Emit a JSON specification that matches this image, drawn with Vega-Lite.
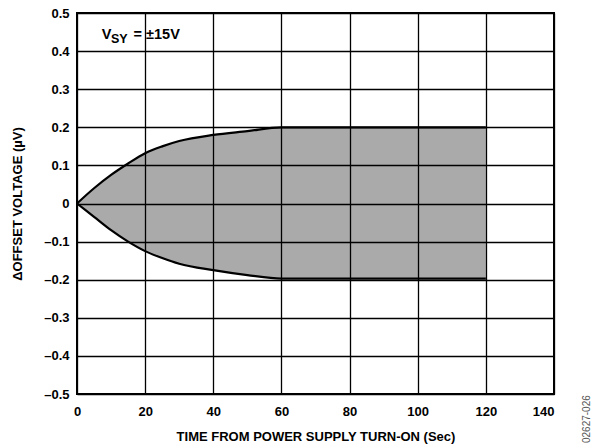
{
  "$schema": "https://vega.github.io/schema/vega-lite/v6.json",
  "autosize": {"type": "none"},
  "width": 477,
  "height": 381,
  "padding": {"left": 77, "top": 13, "right": 38, "bottom": 54},
  "background": "white",
  "config": {
    "view": {"stroke": "black", "strokeWidth": 2},
    "font": "Liberation Sans",
    "axis": {
      "grid": true,
      "gridColor": "black",
      "gridWidth": 1.3,
      "gridOpacity": 1,
      "domain": false,
      "ticks": false,
      "labelOverlap": false,
      "labelFont": "Liberation Sans",
      "labelFontWeight": "bold",
      "labelFontSize": 13,
      "labelColor": "black",
      "titleFont": "Liberation Sans",
      "titleFontWeight": "bold",
      "titleFontSize": 13,
      "titleColor": "black"
    }
  },
  "datasets": {
    "band": [
      {"t": 0, "hi": 0, "lo": 0},
      {"t": 5, "hi": 0.04, "lo": -0.035},
      {"t": 10, "hi": 0.075, "lo": -0.07},
      {"t": 15, "hi": 0.105, "lo": -0.1},
      {"t": 20, "hi": 0.132, "lo": -0.125},
      {"t": 25, "hi": 0.15, "lo": -0.143},
      {"t": 30, "hi": 0.164, "lo": -0.158},
      {"t": 40, "hi": 0.18, "lo": -0.175},
      {"t": 50, "hi": 0.19, "lo": -0.188},
      {"t": 60, "hi": 0.2, "lo": -0.197},
      {"t": 120, "hi": 0.2, "lo": -0.197}
    ]
  },
  "layer": [
    {
      "data": {"name": "band"},
      "mark": {"type": "area", "color": "#aaaaaa", "opacity": 1, "interpolate": "monotone"},
      "encoding": {
        "x": {
          "field": "t", "type": "quantitative",
          "scale": {"domain": [0, 140], "nice": false},
          "axis": {
            "values": [0, 20, 40, 60, 80, 100, 120, 140],
            "tickCount": 20,
            "zindex": 1,
            "title": "TIME FROM POWER SUPPLY TURN-ON (Sec)",
            "labelPadding": 11,
            "titlePadding": 12,
            "labelAlign": {"expr": "datum.value == 140 ? 'right' : 'center'"},
            "labelFlush": false
          }
        },
        "y": {
          "field": "hi", "type": "quantitative",
          "scale": {"domain": [-0.5, 0.5], "nice": false, "zero": false},
          "axis": {
            "values": [-0.5, -0.4, -0.3, -0.2, -0.1, 0, 0.1, 0.2, 0.3, 0.4, 0.5],
            "tickCount": 20,
            "zindex": 1,
            "title": "ΔOFFSET VOLTAGE (µV)",
            "labelPadding": 8,
            "titlePadding": 19,
            "labelExpr": "abs(datum.value) < 1e-9 ? '0' : (datum.value < 0 ? '–' + format(-datum.value, '.1f') : format(datum.value, '.1f'))"
          }
        },
        "y2": {"field": "lo"}
      }
    },
    {
      "data": {"name": "band"},
      "mark": {"type": "line", "color": "black", "strokeWidth": 2.2, "interpolate": "monotone"},
      "encoding": {
        "x": {"field": "t", "type": "quantitative"},
        "y": {"field": "hi", "type": "quantitative"}
      }
    },
    {
      "data": {"name": "band"},
      "mark": {"type": "line", "color": "black", "strokeWidth": 2.2, "interpolate": "monotone"},
      "encoding": {
        "x": {"field": "t", "type": "quantitative"},
        "y": {"field": "lo", "type": "quantitative"}
      }
    },
    {
      "data": {"values": [{"x": 7.25, "y": 0.431, "label": "V"}]},
      "mark": {"type": "text", "align": "left", "baseline": "alphabetic", "fontSize": 14.5, "fontWeight": "bold", "color": "black"},
      "encoding": {
        "x": {"field": "x", "type": "quantitative"},
        "y": {"field": "y", "type": "quantitative"},
        "text": {"field": "label"}
      }
    },
    {
      "data": {"values": [{"x": 9.95, "y": 0.421, "label": "SY"}]},
      "mark": {"type": "text", "align": "left", "baseline": "alphabetic", "fontSize": 12.5, "fontWeight": "bold", "color": "black"},
      "encoding": {
        "x": {"field": "x", "type": "quantitative"},
        "y": {"field": "y", "type": "quantitative"},
        "text": {"field": "label"}
      }
    },
    {
      "data": {"values": [{"x": 16.6, "y": 0.431, "label": "= ±15V"}]},
      "mark": {"type": "text", "align": "left", "baseline": "alphabetic", "fontSize": 14.5, "fontWeight": "bold", "color": "black"},
      "encoding": {
        "x": {"field": "x", "type": "quantitative"},
        "y": {"field": "y", "type": "quantitative"},
        "text": {"field": "label"}
      }
    },
    {
      "data": {"values": [{"x": 149.6, "y": -0.566, "label": "02627-026"}]},
      "mark": {"type": "text", "align": "center", "baseline": "middle", "angle": 270, "fontSize": 10, "color": "#555555", "clip": false},
      "encoding": {
        "x": {"field": "x", "type": "quantitative"},
        "y": {"field": "y", "type": "quantitative"},
        "text": {"field": "label"}
      }
    }
  ]
}
